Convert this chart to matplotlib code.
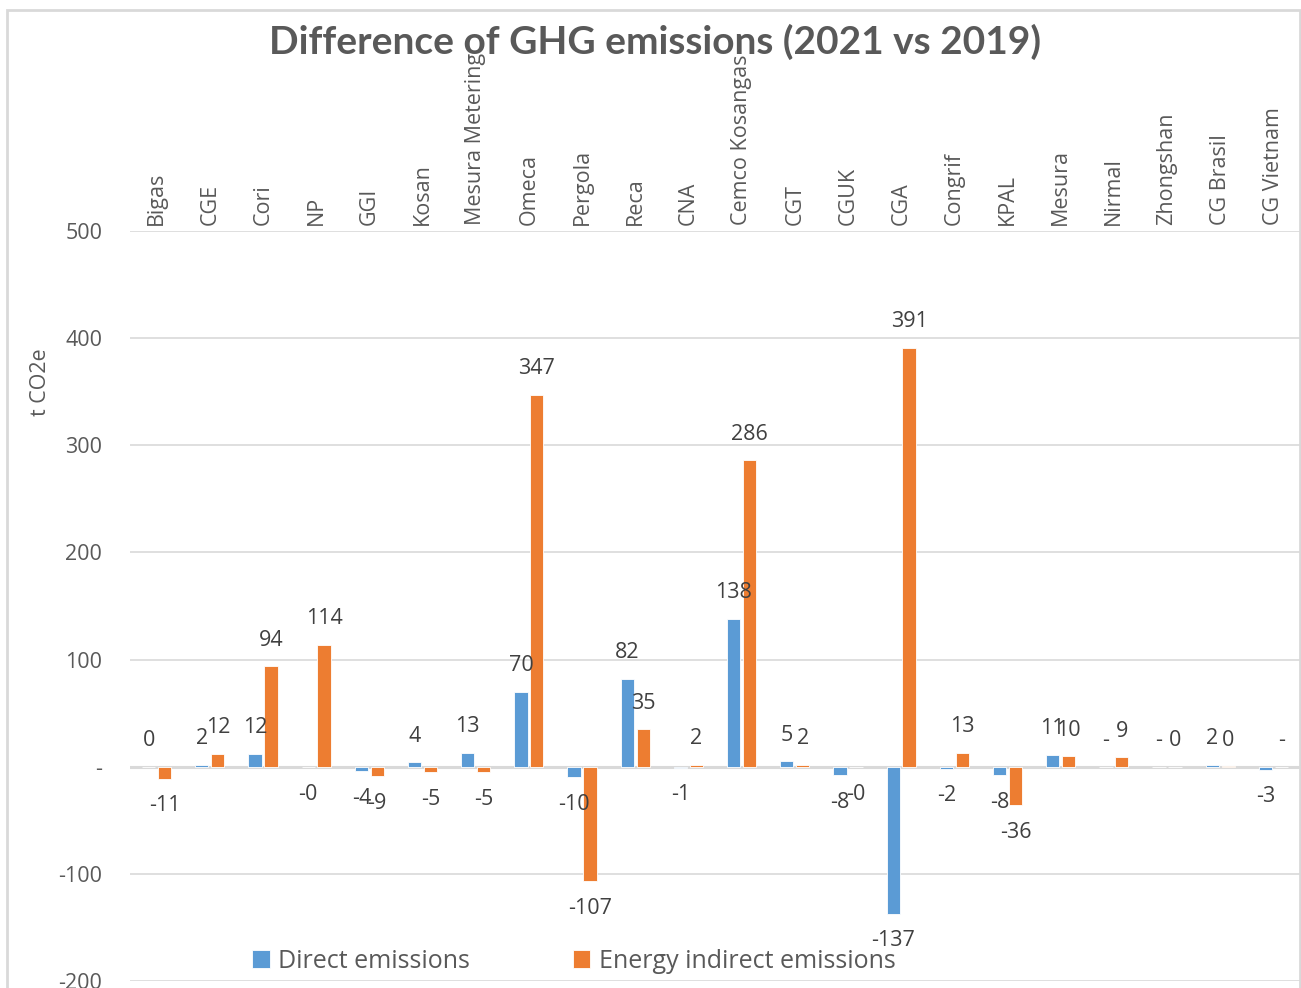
import numpy as np
import matplotlib
matplotlib.use("Agg")
import matplotlib.pyplot as plt
from matplotlib.patches import Rectangle

plt.rcParams['font.family'] = ['Open Sans', 'DejaVu Sans']

sites = ["Bigas", "CGE", "Cori", "NP", "GGI", "Kosan", "Mesura Metering",
         "Omeca", "Pergola", "Reca", "CNA", "Cemco Kosangas", "CGT", "CGUK",
         "CGA", "Congrif", "KPAL", "Mesura", "Nirmal", "Zhongshan",
         "CG Brasil", "CG Vietnam"]
direct = [0.2, 2, 12, -0.3, -4, 4, 13, 70, -10, 82, -1, 138, 5, -8,
          -137, -2, -8, 11, 0, 0, 2, -3]
indirect = [-11, 12, 94, 114, -9, -5, -5, 347, -107, 35, 2, 286, 2, -0.3,
            391, 13, -36, 10, 9, 0.2, 0.3, 0]
series_names = ["Direct emissions", "Energy indirect emissions"]
yticks = [-200, -100, 0, 100, 200, 300, 400, 500]

BLUE = "#5B9BD5"
ORANGE = "#ED7D31"
TXT = "#595959"
GRID = "#D9D9D9"


def fmt(v):
    # accounting style: zero shown as a dash
    if v == 0:
        return "-"
    return f"{v:.0f}"


fig = plt.figure(figsize=(13.01, 9.88), dpi=100)
ax = fig.add_axes([130 / 1301, 1 - 981 / 988, 1170 / 1301, 750 / 988])

x = np.arange(len(sites))
w = 0.25
off = 0.15
b1 = ax.bar(x - off, direct, w, color=BLUE, edgecolor="white", linewidth=0.6,
            label=series_names[0], zorder=3)
b2 = ax.bar(x + off, indirect, w, color=ORANGE, edgecolor="white", linewidth=0.6,
            label=series_names[1], zorder=3)

for bars, vals in ((b1, direct), (b2, indirect)):
    for rect, v in zip(bars, vals):
        cx = rect.get_x() + rect.get_width() / 2
        dy = 26 if v >= 0 else -27
        ax.annotate(fmt(v), (cx, v), xytext=(0, dy), textcoords="offset pixels",
                    ha="center", va="center", fontsize=15.5, color="#404040",
                    zorder=5)

ax.set_xlim(-0.5, len(sites) - 0.5)
ax.set_ylim(-200, 500)
ax.set_yticks(yticks)
ax.set_yticklabels([fmt(t) for t in yticks])
ax.grid(axis="y", color=GRID, linewidth=1.2, zorder=0)
ax.axhline(0, color=GRID, linewidth=2.2, zorder=1)
for s in ax.spines.values():
    s.set_visible(False)

ax.xaxis.tick_top()
ax.set_xticks(x)
ax.set_xticklabels(sites, rotation=90)
ax.tick_params(axis="x", length=0, pad=4, labelsize=15.5, labelcolor=TXT)
ax.tick_params(axis="y", length=0, pad=20, labelsize=15.5, labelcolor=TXT)

fig.text(40 / 1301, 1 - 382 / 988, "t CO2e", rotation=90, ha="center",
         va="center", fontsize=15.5, color=TXT)

fig.text(655 / 1301, 1 - 42 / 988, "Difference of GHG emissions (2021 vs 2019)",
         ha="center", va="center", fontsize=28, fontweight="bold", color=TXT,
         family=["Lato", "DejaVu Sans"])

fig.legend(handles=[b1, b2], loc="center left",
           bbox_to_anchor=(252 / 1301, 1 - 961 / 988), frameon=False, ncol=2,
           fontsize=18, handlelength=0.7, handleheight=0.7, handletextpad=0.35,
           columnspacing=4.1, borderpad=0, borderaxespad=0, labelcolor=TXT)

fig.patches.append(Rectangle((7 / 1301, -0.05), 1293 / 1301, 1.05 - 10 / 988,
                             transform=fig.transFigure, fill=False,
                             edgecolor="#D9D9D9", linewidth=2))

fig.savefig("out.png", dpi=100)
